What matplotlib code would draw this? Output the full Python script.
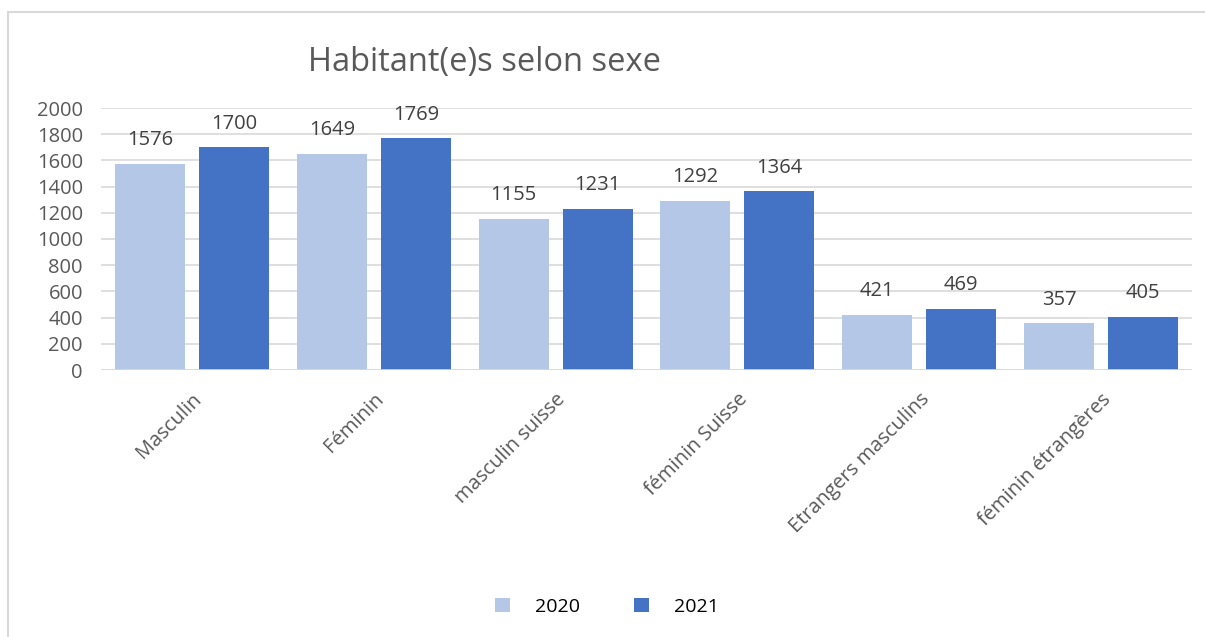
import matplotlib
matplotlib.use("Agg")
import matplotlib.pyplot as plt
from matplotlib.patches import Rectangle
import numpy as np

categories = ["Masculin", "Féminin", "masculin suisse", "féminin Suisse",
              "Etrangers masculins", "féminin étrangères"]
series_names = ["2020", "2021"]
values_2020 = [1576, 1649, 1155, 1292, 421, 357]
values_2021 = [1700, 1769, 1231, 1364, 469, 405]
yticks = [0, 200, 400, 600, 800, 1000, 1200, 1400, 1600, 1800, 2000]

plt.rcParams['font.family'] = ['Open Sans', 'DejaVu Sans']

fig = plt.figure(figsize=(12.05, 6.37), dpi=100)
fig.patches.append(Rectangle((8/1205, -0.1), 1.2, 1 - 12/637 + 0.1, transform=fig.transFigure,
                             fill=False, edgecolor='#d9d9d9', linewidth=1.5))
ax = fig.add_axes([101/1205, 1 - 370/637, 1091/1205, 262/637])

x = np.arange(len(categories))
w = 0.385
off = 0.231
b1 = ax.bar(x - off, values_2020, w, color='#b4c7e7', label=series_names[0], zorder=3)
b2 = ax.bar(x + off, values_2021, w, color='#4472c4', label=series_names[1], zorder=3)
for bars in (b1, b2):
    for r in bars:
        ax.annotate(f"{int(r.get_height())}", (r.get_x() + r.get_width()/2, r.get_height()),
                    xytext=(0, 17), textcoords='offset points', ha='center', va='center',
                    fontsize=14.5, color='#404040')

ax.set_xlim(-0.5, len(categories) - 0.5)
ax.set_ylim(0, 2000)
ax.set_yticks(yticks)
ax.set_yticklabels([str(v) for v in yticks], fontsize=14.5, color='#595959')
ax.set_xticks(x)
ax.set_xticklabels(categories, rotation=45, ha='right', rotation_mode='anchor',
                   fontsize=14.5, color='#595959')
ax.tick_params(axis='y', length=0, pad=13)
ax.tick_params(axis='x', length=0, pad=14)
ax.yaxis.grid(True, color='#d9d9d9', linewidth=1.2, zorder=0)
for s in ax.spines.values():
    s.set_visible(False)
ax.axhline(0, color='#d9d9d9', linewidth=1.2, zorder=4)

fig.text(485/1205, 1 - 62/637, "Habitant(e)s selon sexe", ha='center', va='center',
         fontsize=23.5, color='#595959')

fig.legend(handles=[b1, b2], labels=series_names, loc='center', bbox_to_anchor=(607/1205, 1 - 607/637),
           ncol=2, frameon=False, fontsize=14, handlelength=0.75, handleheight=0.75,
           columnspacing=2.8, handletextpad=1.3, labelcolor='#000000')

fig.savefig("out.png", dpi=100, facecolor='white')
